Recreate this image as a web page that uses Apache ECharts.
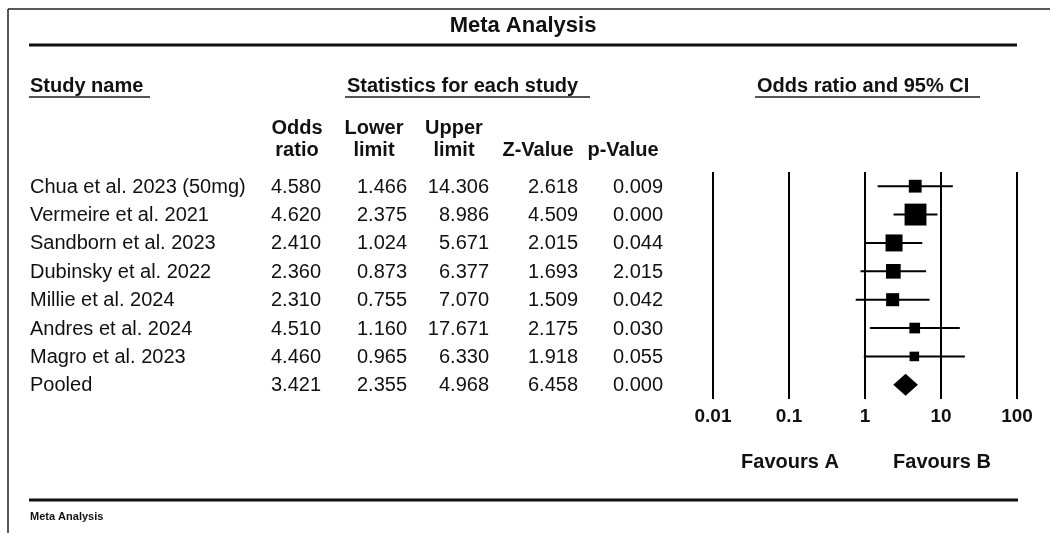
<!DOCTYPE html>
<html>
<head>
<meta charset="utf-8">
<script src="https://cdn.jsdelivr.net/npm/echarts@6/dist/echarts.min.js"></script>
<style>
html, body { margin: 0; padding: 0; background: #fff; }
#chart { width: 1050px; height: 533px; }
</style>
</head>
<body>
<div id="chart"></div>
<script>
const studies = ['Chua et al. 2023 (50mg)', 'Vermeire et al. 2021', 'Sandborn et al. 2023', 'Dubinsky et al. 2022',
  'Millie et al. 2024', 'Andres et al. 2024', 'Magro et al. 2023', 'Pooled']
const oddsRatio = [4.580, 4.620, 2.410, 2.360, 2.310, 4.510, 4.460, 3.421]
const lowerLimit = [1.466, 2.375, 1.024, 0.873, 0.755, 1.160, 0.965, 2.355]
const upperLimit = [14.306, 8.986, 5.671, 6.377, 7.070, 17.671, 6.330, 4.968]
const zValue = [2.618, 4.509, 2.015, 1.693, 1.509, 2.175, 1.918, 6.458]
const pValue = [0.009, 0.000, 0.044, 2.015, 0.042, 0.030, 0.055, 0.000]
// the drawn CI for Magro runs out to ~20.6, not the 6.330 printed in the table
const plotUpper = [14.306, 8.986, 5.671, 6.377, 7.070, 17.671, 20.6, 4.968]
// relative weight (%) of each study, sets the box size
const weights = [10.8, 31.5, 19.0, 14.1, 11.2, 7.5, 6.0]
const columnHeads = ['Odds\nratio', 'Lower\nlimit', 'Upper\nlimit', 'Z-Value', 'p-Value']
const axisTicks = [0.01, 0.1, 1, 10, 100]

const FONT = "'Liberation Sans', Arial, sans-serif"
const INK = '#111'

// table columns, x relative to the table grid's left edge
const colX = [0, 291, 377, 459, 548, 633]
const colAlign = ['left', 'right', 'right', 'right', 'right', 'right']

const chart = echarts.init(document.getElementById('chart'), null, { renderer: 'canvas' })

function txt(text, x, y, size, bold, align) {
  return {
    type: 'text', x, y, silent: true,
    style: { text, fill: INK, fontSize: size, fontFamily: FONT, fontWeight: bold ? 'bold' : 'normal',
      align: align || 'left', verticalAlign: 'middle', lineHeight: 22 }
  }
}
function rule(x1, x2, y, w, color) {
  return { type: 'line', silent: true, shape: { x1, y1: y, x2, y2: y }, style: { stroke: color || INK, lineWidth: w } }
}

const headX = [297, 374, 454, 538, 623]
const graphics = [
  { type: 'line', silent: true, shape: { x1: 8, y1: 9, x2: 1050, y2: 9 }, style: { stroke: '#222', lineWidth: 1.5 } },
  { type: 'line', silent: true, shape: { x1: 8, y1: 9, x2: 8, y2: 533 }, style: { stroke: '#222', lineWidth: 1.5 } },
  txt('Meta Analysis', 523, 26, 22, true, 'center'),
  rule(29, 1017, 45, 3),
  txt('Study name', 30, 86, 20, true),
  txt('Statistics for each study', 347, 86, 20, true),
  txt('Odds ratio and 95% CI', 757, 86, 20, true),
  rule(29, 150, 97, 2, '#555'),
  rule(345, 590, 97, 2, '#555'),
  rule(755, 980, 97, 2, '#555'),
  txt('Favours A', 790, 462, 20, true, 'center'),
  txt('Favours B', 942, 462, 20, true, 'center'),
  rule(29, 1018, 500, 3),
  txt('Meta Analysis', 30, 517, 11, true)
]
columnHeads.forEach((h, k) => {
  const two = h.indexOf('\n') >= 0
  graphics.push(txt(h, headX[k], two ? 139 : 150, 20, true, 'center'))
})

chart.setOption({
  backgroundColor: '#fff',
  animation: false,
  grid: [
    { left: 713, top: 172, width: 304, height: 227 },
    { left: 30, top: 172, width: 640, height: 227 }
  ],
  xAxis: [
    { type: 'log', logBase: 10, min: axisTicks[0], max: axisTicks[axisTicks.length - 1], gridIndex: 0,
      axisLine: { show: false }, axisTick: { show: false },
      splitLine: { show: true, lineStyle: { color: '#000', width: 2 } },
      axisLabel: { color: INK, fontSize: 19, fontWeight: 'bold', fontFamily: FONT, margin: 8,
        formatter: v => String(Number(v.toPrecision(3))) } },
    { type: 'value', min: 0, max: 1, gridIndex: 1, show: false }
  ],
  yAxis: [
    { type: 'category', data: studies, inverse: true, gridIndex: 0, show: false },
    { type: 'category', data: studies, inverse: true, gridIndex: 1, show: false }
  ],
  graphic: graphics,
  series: [
    {
      // the statistics table, one text row per study
      type: 'custom', xAxisIndex: 1, yAxisIndex: 1, silent: true,
      encode: { x: 0, y: 1 },
      data: studies.map((s, i) => [0, i]),
      renderItem(params, api) {
        const i = api.value(1)
        const y = api.coord([0, i])[1] + 1
        const x0 = params.coordSys.x
        const vals = [studies[i], oddsRatio[i].toFixed(3), lowerLimit[i].toFixed(3), upperLimit[i].toFixed(3),
          zValue[i].toFixed(3), pValue[i].toFixed(3)]
        return { type: 'group', children: vals.map((t, k) => txt(t, x0 + colX[k], y, 20, false, colAlign[k])) }
      }
    },
    {
      // study boxes with their confidence intervals
      type: 'custom', xAxisIndex: 0, yAxisIndex: 0, silent: true,
      encode: { x: [0, 1, 2], y: 4 },
      data: weights.map((w, i) => [oddsRatio[i], lowerLimit[i], plotUpper[i], w, i]),
      renderItem(params, api) {
        const i = api.value(4)
        const pO = api.coord([api.value(0), i])
        const pL = api.coord([api.value(1), i])
        const pU = api.coord([api.value(2), i])
        const side = Math.sqrt(api.value(3)) * 3.9
        return { type: 'group', children: [
          { type: 'line', shape: { x1: pL[0], y1: pO[1], x2: pU[0], y2: pO[1] }, style: { stroke: '#000', lineWidth: 2 } },
          { type: 'rect', shape: { x: pO[0] - side / 2, y: pO[1] - side / 2, width: side, height: side }, style: { fill: '#000' } }
        ] }
      }
    },
    {
      // pooled estimate diamond
      type: 'custom', xAxisIndex: 0, yAxisIndex: 0, silent: true,
      encode: { x: [0, 1, 2], y: 3 },
      data: [[oddsRatio[7], lowerLimit[7], plotUpper[7], 7]],
      renderItem(params, api) {
        const i = api.value(3)
        const pO = api.coord([api.value(0), i])
        const pL = api.coord([api.value(1), i])
        const pU = api.coord([api.value(2), i])
        const h = 11
        return { type: 'polygon', shape: { points: [[pL[0], pO[1]], [pO[0], pO[1] - h], [pU[0], pO[1]], [pO[0], pO[1] + h]] },
          style: { fill: '#000' } }
      }
    }
  ]
})
</script>
</body>
</html>
